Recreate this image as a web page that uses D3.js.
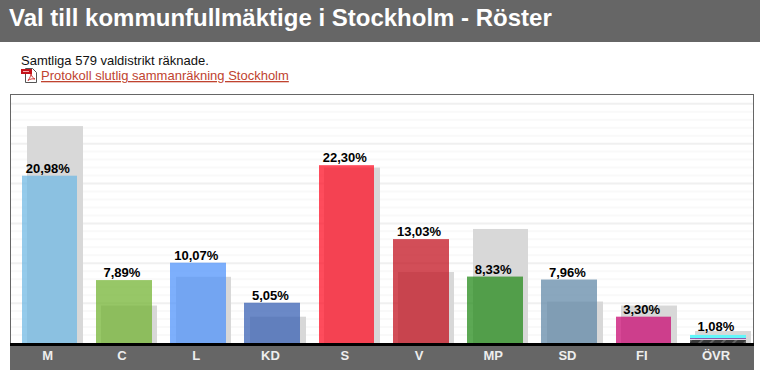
<!DOCTYPE html>
<html>
<head>
<meta charset="utf-8">
<script src="https://cdnjs.cloudflare.com/ajax/libs/d3/7.8.5/d3.min.js"></script>
<style>
html, body { margin: 0; padding: 0; background: #fff; overflow: hidden; }
svg { display: block; font-family: "Liberation Sans", Arial, sans-serif; }
</style>
</head>
<body>
<div id="chart"></div>
<script>
const parties = ["M", "C", "L", "KD", "S", "V", "MP", "SD", "FI", "ÖVR"];
const votes = [20.98, 7.89, 10.07, 5.05, 22.30, 13.03, 8.33, 7.96, 3.30, 1.08];
const previousVotes = [27.2, 4.7, 8.3, 3.3, 22.0, 8.9, 14.3, 5.2, 4.7, 1.5];
const colors = ["#72bae4", "#74b434", "#5294fb", "#3a62b4", "#fd1025", "#c31320", "#258b1b", "#638aa8", "#c90b73", "#666"];
const otherParties = [0.38, 0.10, 0.13, 0.40];
const otherColors = ["url(#hatch)", "#fff", "#8a2a96", "#62f6fa"];

const width = 760, height = 375;
const frame = {left: 11, right: 753, top: 95, bottom: 343};
const barWidth = 55.7;

const svg = d3.select("#chart").append("svg")
    .attr("width", width)
    .attr("height", height);

//Hatch for the biggest of the small parties
const hatch = svg.append("defs").append("pattern")
    .attr("id", "hatch")
    .attr("patternUnits", "userSpaceOnUse")
    .attr("width", 8).attr("height", 8)
    .attr("patternTransform", "rotate(-45)");
hatch.append("rect").attr("width", 8).attr("height", 8).attr("fill", "#3a3a3a");
hatch.append("rect").attr("width", 8).attr("height", 2).attr("fill", "#666");

//Header
svg.append("rect").attr("width", width).attr("height", 42).attr("fill", "#666");
svg.append("text")
    .attr("x", 9).attr("y", 26)
    .attr("fill", "#fff")
    .attr("font-size", 24).attr("font-weight", "bold")
    .text("Val till kommunfullmäktige i Stockholm - Röster");

svg.append("text")
    .attr("x", 21).attr("y", 65)
    .attr("fill", "#111")
    .attr("font-size", 13)
    .text("Samtliga 579 valdistrikt räknade.");
svg.append("text")
    .attr("x", 41).attr("y", 80)
    .attr("fill", "#c0432f")
    .attr("font-size", 13)
    .attr("text-decoration", "underline")
    .text("Protokoll slutlig sammanräkning Stockholm");

//Small pdf icon in front of the link
const icon = svg.append("g").attr("transform", "translate(21,68)");
icon.append("path").attr("d", "M4.500 .5H11.500L15.500 4.500V14.500H4.500Z").attr("fill", "#fff").attr("stroke", "#555");
icon.append("path").attr("d", "M7 12.500C9 10 10 7 10 6C11 9 12 10 14 11C11 10.500 9 11 7 12.500Z").attr("fill", "none").attr("stroke", "#d03030");
icon.append("rect").attr("x", 0).attr("y", 1).attr("width", 11).attr("height", 5).attr("fill", "#c4121a");
icon.append("rect").attr("x", 2).attr("y", 3).attr("width", 6).attr("height", 1).attr("fill", "#f4b0b0");

const x = d3.scaleBand().domain(parties).range([10.6, 753.1]);
const y = d3.scaleLinear().domain([0, 31.1]).range([frame.bottom, frame.top]);

//Pixel edges of the bars, the old bars sit a bit to the right of the new ones
const barLeft = (d, shift) => Math.round(x(d) + shift);
const barRight = (d, shift) => Math.round(x(d) + shift + barWidth);

//Grid, one light line per percent and a stronger one per five
svg.selectAll("line.grid")
    .data(d3.range(1, 31))
    .join("line")
    .attr("class", "grid")
    .attr("x1", frame.left).attr("x2", frame.right)
    .attr("y1", d => y(d)).attr("y2", d => y(d))
    .attr("stroke", d => d % 5 === 0 ? "#f0f0f0" : "#f9f9f9")
    .attr("stroke-width", 2);

//Frame
svg.append("rect")
    .attr("x", 10.5).attr("y", 94.5)
    .attr("width", 743).attr("height", 250)
    .attr("fill", "none")
    .attr("stroke", "#666");

//Last election behind the current bars
svg.selectAll("rect.previous")
    .data(parties)
    .join("rect")
    .attr("class", "previous")
    .attr("x", d => barLeft(d, 16.5))
    .attr("y", (d, i) => y(previousVotes[i]))
    .attr("width", d => barRight(d, 16.5) - barLeft(d, 16.5))
    .attr("height", (d, i) => y(0) - y(previousVotes[i]))
    .attr("fill", "#d8d8d8");

svg.selectAll("rect.current")
    .data(parties.slice(0, -1))
    .join("rect")
    .attr("class", "current")
    .attr("x", d => barLeft(d, 11))
    .attr("y", (d, i) => y(votes[i]))
    .attr("width", d => barRight(d, 11) - barLeft(d, 11))
    .attr("height", (d, i) => y(0) - y(votes[i]))
    .attr("fill", (d, i) => colors[i])
    .attr("fill-opacity", 0.75);

//ÖVR is split up on the small parties
const otherStack = d3.cumsum(otherParties);
svg.selectAll("rect.other")
    .data(otherParties)
    .join("rect")
    .attr("class", "other")
    .attr("x", barLeft("ÖVR", 11))
    .attr("y", (d, i) => y(otherStack[i]))
    .attr("width", barRight("ÖVR", 11) - barLeft("ÖVR", 11))
    .attr("height", d => y(0) - y(d))
    .attr("fill", (d, i) => otherColors[i]);

svg.selectAll("text.value")
    .data(parties)
    .join("text")
    .attr("class", "value")
    .attr("x", d => x(d) + x.bandwidth() / 2)
    .attr("y", (d, i) => y(votes[i]) - 3)
    .attr("text-anchor", "middle")
    .attr("font-size", 13).attr("font-weight", "bold")
    .attr("fill", "#000")
    .text((d, i) => votes[i].toFixed(2).replace(".", ",") + "%");

//Axis strip below the bars
svg.append("rect").attr("x", 10).attr("y", 346).attr("width", 744).attr("height", 24).attr("fill", "#666");
svg.append("rect").attr("x", 10).attr("y", 343).attr("width", 744).attr("height", 3).attr("fill", "#000");

const axis = svg.append("g")
    .attr("transform", "translate(0,346)")
    .call(d3.axisBottom(x).tickSize(0).tickPadding(5));
axis.select(".domain").remove();
axis.selectAll("text")
    .attr("fill", "#eee")
    .attr("font-size", 13).attr("font-weight", "bold")
    .attr("font-family", "Liberation Sans, Arial, sans-serif");
</script>
</body>
</html>
